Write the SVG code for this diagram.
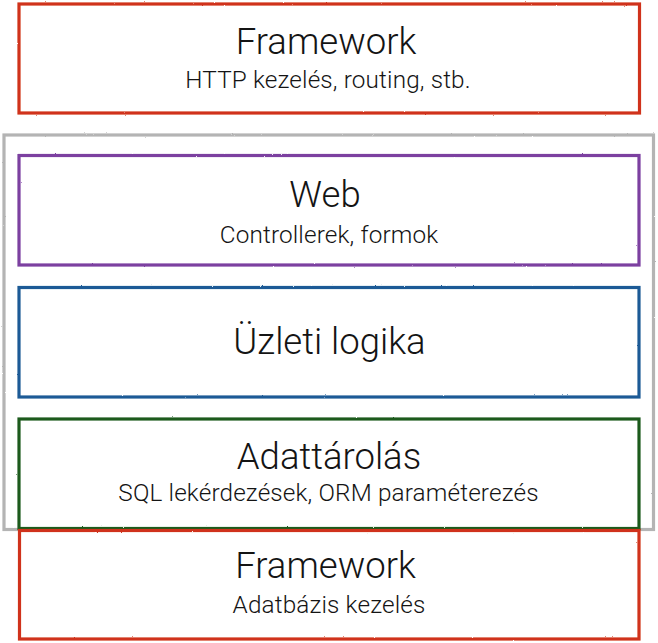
<svg xmlns="http://www.w3.org/2000/svg" width="658" height="643" viewBox="0 0 658 643">
  <defs>
    <filter id="rough" x="-2%" y="-5%" width="104%" height="110%">
      <feTurbulence type="fractalNoise" baseFrequency="0.9" numOctaves="2" seed="3" result="n"/>
      <feDisplacementMap in="SourceGraphic" in2="n" scale="1.6" xChannelSelector="R" yChannelSelector="G"/>
    </filter>
  </defs>
  <style>
    .box { fill: none; stroke-width: 3.2; filter: url(#rough); }
    .red { stroke: #d0331a; }
    .grey { stroke: #b4b4b4; }
    .purple { stroke: #7b3fa0; }
    .blue { stroke: #1e5a96; }
    .green { stroke: #1f5a1f; }
    text { font-family: Roboto, "Liberation Sans", Arial, sans-serif; font-weight: 300; fill: #141414; text-anchor: middle; }
    .title { font-size: 36.5px; }
    .sub { font-size: 24.3px; letter-spacing: 0.15px; }
  </style>
  <rect width="658" height="643" fill="#ffffff"/>

  <g id="container">
    <rect class="box grey" x="4" y="135" width="649.5" height="394.5"/>
  </g>

  <g id="framework-top">
    <rect class="box red" x="19" y="4" width="620.5" height="109"/>
    <text class="title" x="326" y="54">Framework</text>
    <text class="sub" x="328" y="88.3">HTTP kezelés, routing, stb.</text>
  </g>

  <g id="web">
    <rect class="box purple" x="19" y="155.5" width="620" height="109.5"/>
    <text class="title" x="325" y="206.7">Web</text>
    <text class="sub" x="329" y="242.7">Controllerek, formok</text>
  </g>

  <g id="uzleti-logika">
    <rect class="box blue" x="19" y="287.5" width="620" height="109.5"/>
    <text class="title" x="329.5" y="354.3">Üzleti logika</text>
  </g>

  <g id="adattarolas">
    <rect class="box green" x="19" y="419" width="620" height="109.5"/>
    <text class="title" x="329" y="469.3">Adattárolás</text>
    <text class="sub" x="328.5" y="500.7">SQL lekérdezések, ORM paraméterezés</text>
  </g>

  <g id="framework-bottom">
    <rect class="box red" x="19.5" y="530.5" width="619.5" height="108.5"/>
    <text class="title" x="325.5" y="578.3">Framework</text>
    <text class="sub" x="329" y="613.3">Adatbázis kezelés</text>
  </g>

  <g id="connectors"/>
</svg>
